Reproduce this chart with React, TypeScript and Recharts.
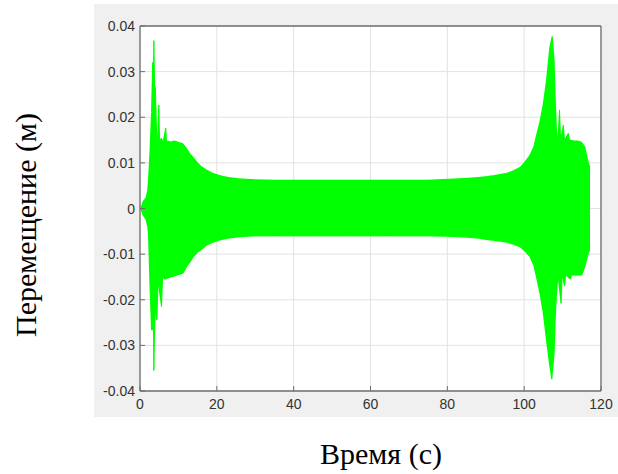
import { ComposedChart, Area, XAxis, YAxis, CartesianGrid } from "recharts";

// upper envelope of the displacement signal (time in s, value in m)
const upperTimes = [
  0, 0.4, 0.8, 1.2, 1.6, 2.0, 2.2, 2.6, 3.0, 3.3, 3.45, 3.6, 3.8, 4.0, 4.3, 4.6,
  4.9, 5.1, 5.6, 6.0, 6.7, 6.9, 8, 9, 10, 11.2, 12.1, 13, 13.9, 15, 16, 17.4, 19,
  20.8, 23, 26, 30, 35, 45, 55, 65, 75, 80, 85, 88, 90.2, 92, 94, 95.4, 97, 98.9,
  100, 101.5, 102.5, 103.2, 104.1, 105, 105.8, 106.7, 107.3, 107.8, 108.1, 108.4,
  108.8, 109.2, 109.5, 110.2, 110.5, 111.5, 111.8, 113, 114, 115, 115.8, 116.7,
  117.1,
];
const upperValues = [
  0, 0.0005, 0.0015, 0.002, 0.0025, 0.004, 0.006, 0.0125, 0.021, 0.032, 0.025,
  0.0368, 0.027, 0.0265, 0.0172, 0.015, 0.0227, 0.015, 0.0154, 0.0145, 0.0176,
  0.0148, 0.0146, 0.0148, 0.0145, 0.0142, 0.0132, 0.012, 0.0112, 0.01, 0.0092,
  0.0084, 0.0077, 0.0072, 0.0068, 0.0065, 0.0063, 0.0062, 0.0062, 0.0062, 0.0062,
  0.0062, 0.0064, 0.0066, 0.0068, 0.007, 0.0072, 0.0075, 0.0077, 0.0082, 0.009,
  0.01, 0.0117, 0.0135, 0.016, 0.019, 0.023, 0.028, 0.0355, 0.0377, 0.0325,
  0.024, 0.0172, 0.015, 0.0216, 0.015, 0.0183, 0.015, 0.0165, 0.015, 0.0148,
  0.0148, 0.0145, 0.0135, 0.01, 0.0092,
];

// lower envelope
const lowerTimes = [
  0, 0.4, 0.8, 1.2, 1.6, 2.0, 2.2, 2.6, 3.0, 3.3, 3.45, 3.6, 3.8, 4.0, 4.4, 4.7,
  5.6, 5.9, 6.5, 8, 9, 10, 11.2, 12.1, 13, 13.9, 15, 16, 17.4, 19, 20.8, 23, 26,
  30, 35, 45, 55, 65, 75, 80, 85, 88, 90.2, 92, 94, 95.4, 97, 98.9, 100, 101.5,
  102.5, 103.2, 104.1, 105, 105.8, 106.7, 107.2, 107.8, 108.1, 108.4, 108.8,
  109.6, 109.9, 110.5, 110.8, 112, 112.3, 113, 114, 115, 115.8, 116.7, 117.1,
];
const lowerValues = [
  0, -0.0005, -0.0015, -0.002, -0.0025, -0.004, -0.0054, -0.0171, -0.0266,
  -0.0266, -0.022, -0.0355, -0.027, -0.022, -0.0244, -0.016, -0.0215, -0.015,
  -0.0155, -0.015, -0.0148, -0.0145, -0.0142, -0.0128, -0.0118, -0.0106,
  -0.0096, -0.009, -0.008, -0.0074, -0.0069, -0.0065, -0.0062, -0.006, -0.006,
  -0.006, -0.006, -0.006, -0.006, -0.0061, -0.0063, -0.0065, -0.0068, -0.007,
  -0.0072, -0.0074, -0.0078, -0.0084, -0.0092, -0.0106, -0.0125, -0.015,
  -0.0186, -0.023, -0.0288, -0.0347, -0.0374, -0.0317, -0.024, -0.0193,
  -0.0146, -0.0208, -0.0146, -0.017, -0.0146, -0.0155, -0.0146, -0.0146,
  -0.0146, -0.0146, -0.0128, -0.0098, -0.0091,
];

const xTicks = [0, 20, 40, 60, 80, 100, 120];
const yTicks = [-0.04, -0.03, -0.02, -0.01, 0, 0.01, 0.02, 0.03, 0.04];

const xLabel = "Время (с)";
const yLabel = "Перемещение (м)";

const upperData = upperTimes.map((t, i) => ({ t, v: upperValues[i] }));
const lowerData = lowerTimes.map((t, i) => ({ t, v: lowerValues[i] }));

const axisColor = "#6e6e6e";
const textColor = "#333";
const tickFont = "'Liberation Sans', Arial, sans-serif";
const TICK_LEN = 5;

const LeftTick = (props: any) => {
  const { x, y, payload } = props;
  return (
    <g>
      <line x1={x + 5} x2={x + 5 + TICK_LEN} y1={y} y2={y} stroke={axisColor} />
      <text x={x} y={y} dy="0.36em" textAnchor="end" fontSize={14} fill={textColor} fontFamily={tickFont}>
        {String(payload.value)}
      </text>
    </g>
  );
};

const BottomTick = (props: any) => {
  const { x, y, payload } = props;
  return (
    <g>
      <line x1={x} x2={x} y1={y - 8} y2={y - 8 - TICK_LEN} stroke={axisColor} />
      <text x={x} y={y} dy="0.71em" textAnchor="middle" fontSize={14} fill={textColor} fontFamily={tickFont}>
        {String(payload.value)}
      </text>
    </g>
  );
};

const RightTick = (props: any) => {
  const { x, y } = props;
  return <line x1={x} x2={x - TICK_LEN} y1={y} y2={y} stroke={axisColor} />;
};

const TopTick = (props: any) => {
  const { x, y } = props;
  return <line x1={x} x2={x} y1={y} y2={y + TICK_LEN} stroke={axisColor} />;
};

export default function App() {
  return (
    <div
      style={{
        position: "absolute",
        left: 0,
        top: 0,
        width: 618,
        height: 474,
        background: "#fff",
        fontFamily: "'Liberation Serif', 'Times New Roman', serif",
      }}
    >
      <style>{`.recharts-area-area { shape-rendering: crispEdges; }`}</style>
      <div style={{ position: "absolute", left: 94, top: 4, width: 524, height: 413, background: "#f0f0f0" }}>
        <ComposedChart width={524} height={413} margin={{ top: 2, right: 2, bottom: 2, left: 2 }}>
          <CartesianGrid stroke="#e2e2e2" fill="#fff" />
          <XAxis
            xAxisId={0}
            dataKey="t"
            type="number"
            domain={[0, 120]}
            ticks={xTicks}
            height={24}
            tickSize={0}
            tickMargin={8}
            tickLine={false}
            axisLine={{ stroke: axisColor, strokeWidth: 1.3 }}
            tick={<BottomTick />}
            allowDataOverflow
          />
          <XAxis
            xAxisId="top"
            orientation="top"
            dataKey="t"
            type="number"
            domain={[0, 120]}
            ticks={xTicks}
            height={20}
            tickSize={0}
            tickMargin={0}
            tickLine={false}
            axisLine={{ stroke: axisColor, strokeWidth: 1.3 }}
            tick={<TopTick />}
          />
          <YAxis
            yAxisId={0}
            type="number"
            domain={[-0.04, 0.04]}
            ticks={yTicks}
            width={44}
            tickSize={0}
            tickMargin={5}
            tickLine={false}
            axisLine={{ stroke: axisColor, strokeWidth: 1.3 }}
            tick={<LeftTick />}
            allowDataOverflow
          />
          <YAxis
            yAxisId="right"
            orientation="right"
            type="number"
            domain={[-0.04, 0.04]}
            ticks={yTicks}
            width={15}
            tickSize={0}
            tickMargin={0}
            tickLine={false}
            axisLine={{ stroke: axisColor, strokeWidth: 1.3 }}
            tick={<RightTick />}
          />
          <Area
            data={lowerData}
            dataKey="v"
            type="linear"
            baseValue={0}
            stroke="#00ff00"
            strokeWidth={1}
            fill="#00ff00"
            fillOpacity={1}
            isAnimationActive={false}
            dot={false}
            activeDot={false}
          />
          <Area
            data={upperData}
            dataKey="v"
            type="linear"
            baseValue={0}
            stroke="#00ff00"
            strokeWidth={1}
            fill="#00ff00"
            fillOpacity={1}
            isAnimationActive={false}
            dot={false}
            activeDot={false}
          />
        </ComposedChart>
      </div>
      <div
        style={{
          position: "absolute",
          left: 381 - 100,
          top: 439,
          width: 200,
          height: 30,
          lineHeight: "30px",
          fontSize: 30,
          textAlign: "center",
          color: "#000",
          whiteSpace: "nowrap",
        }}
      >
        {xLabel}
      </div>
      <div
        style={{
          position: "absolute",
          left: 26 - 150,
          top: 225 - 15,
          width: 300,
          height: 30,
          lineHeight: "30px",
          fontSize: 30,
          textAlign: "center",
          color: "#000",
          whiteSpace: "nowrap",
          transform: "rotate(-90deg)",
          transformOrigin: "center",
        }}
      >
        {yLabel}
      </div>
    </div>
  );
}
